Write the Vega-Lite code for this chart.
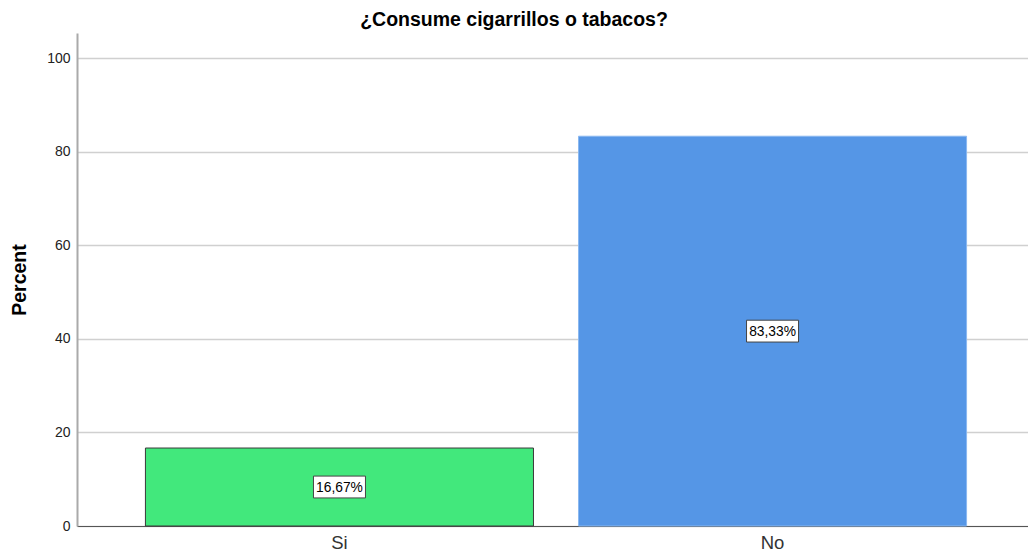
{
  "$schema": "https://vega.github.io/schema/vega-lite/v6.json",
  "width": 958,
  "height": 493,
  "autosize": "none",
  "padding": {"left": 77, "top": 33, "right": 0, "bottom": 32},
  "background": "white",
  "title": {
    "text": "¿Consume cigarrillos o tabacos?",
    "font": "Liberation Sans",
    "fontSize": 19.5,
    "fontWeight": "bold",
    "color": "#000000",
    "anchor": "middle",
    "frame": "group",
    "offset": 3,
    "dx": -42
  },
  "config": {
    "view": {"stroke": null},
    "font": "Liberation Sans"
  },
  "data": {
    "values": [
      {"cat": "Si", "pct": 16.67, "label": "16,67%"},
      {"cat": "No", "pct": 83.33, "label": "83,33%"}
    ]
  },
  "encoding": {
    "x": {
      "field": "cat",
      "type": "nominal",
      "sort": ["Si", "No"],
      "scale": {"paddingInner": 0.104, "paddingOuter": 0.158},
      "axis": {
        "title": null,
        "labelAngle": 0,
        "labelFontSize": 18.5,
        "labelColor": "#333333",
        "labelFont": "Liberation Sans",
        "labelPadding": 7,
        "ticks": false,
        "domainColor": "#555555",
        "domainWidth": 1.2
      }
    }
  },
  "layer": [
    {
      "mark": {"type": "bar", "strokeWidth": 1},
      "encoding": {
        "y": {
          "field": "pct",
          "type": "quantitative",
          "scale": {"domain": [0, 105.4], "nice": false},
          "axis": {
            "title": "Percent",
            "titleFontSize": 19.5,
            "titleFontWeight": "bold",
            "titleColor": "#000000",
            "titlePadding": 17,
            "values": [0, 20, 40, 60, 80, 100],
            "labelFontSize": 14,
            "labelColor": "#222222",
            "labelPadding": 7,
            "ticks": false,
            "domainColor": "#aaaaaa",
            "domainWidth": 2,
            "gridColor": "#d0d0d0",
            "gridWidth": 1.6
          }
        },
        "color": {
          "field": "cat",
          "type": "nominal",
          "scale": {"domain": ["Si", "No"], "range": ["#42e87c", "#5596e6"]},
          "legend": null
        },
        "stroke": {
          "field": "cat",
          "type": "nominal",
          "scale": {"domain": ["Si", "No"], "range": ["#3a3a3a", "#8ab8f0"]},
          "legend": null
        }
      }
    },
    {
      "transform": [{"calculate": "datum.pct / 2", "as": "mid"}],
      "mark": {
        "type": "point",
        "shape": "M-1,-0.42H1V0.42H-1Z",
        "size": 2704,
        "filled": true,
        "fill": "white",
        "stroke": "#444444",
        "strokeWidth": 1,
        "opacity": 1
      },
      "encoding": {
        "y": {"field": "mid", "type": "quantitative"}
      }
    },
    {
      "transform": [{"calculate": "datum.pct / 2", "as": "mid"}],
      "mark": {"type": "text", "fontSize": 13.8, "font": "Liberation Sans", "color": "#000000", "baseline": "middle", "align": "center", "dy": 1},
      "encoding": {
        "y": {"field": "mid", "type": "quantitative"},
        "text": {"field": "label"}
      }
    }
  ]
}
